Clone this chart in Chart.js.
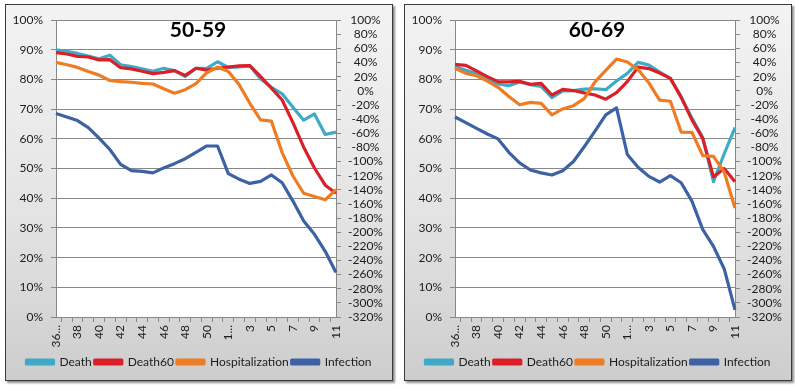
<!DOCTYPE html>
<html>
<head>
<meta charset="utf-8">
<script src="https://cdn.jsdelivr.net/npm/chart.js@4/dist/chart.umd.min.js"></script>
<style>
  html, body { margin: 0; padding: 0; background: #ffffff; }
  body { width: 795px; height: 388px; position: relative; overflow: hidden; }
  .box {
    position: absolute; top: 4px; width: 386px; height: 375px;
    border: 1px solid #3a3a3a;
    background: linear-gradient(to bottom, #f3f3f3 0%, #e4e4e4 55%, #cdcdcd 100%);
    box-shadow: 2px 2px 2px rgba(0,0,0,0.45);
  }
  canvas { display: block; }
</style>
</head>
<body>
<div class="box" style="left:5px"><canvas id="c1" width="386" height="375"></canvas></div>
<div class="box" style="left:404px"><canvas id="c2" width="386" height="375"></canvas></div>
<script>
// ---- data ----
const weeks = ['36...','37','38','39','40','41','42','43','44','45','46','47','48','49','50','51',
               '1...','2','3','4','5','6','7','8','9','10','11'];
const seriesNames = ['Death', 'Death60', 'Hospitalization', 'Infection'];
const panelTitles = ['50-59', '60-69'];
const leftTicks = { min: 0, max: 100, step: 10 };
const rightTicks = { min: -320, max: 100, step: 20 };

// 50-59 (left axis, %)
const death5059   = [90.0, 89.5, 88.8, 87.9, 87.0, 88.2, 85.0, 84.4, 83.6, 82.8, 83.8, 83.0, 81.0, 83.8, 83.8, 86.0, 84.1, 84.3, 84.6, 80.2, 77.4, 75.2, 70.7, 66.3, 68.4, 61.5, 62.3];
const death60_5059 = [89.1, 88.6, 87.8, 87.6, 86.6, 86.7, 84.0, 83.6, 82.8, 82.0, 82.4, 83.0, 81.4, 83.8, 83.2, 83.8, 84.2, 84.6, 84.7, 81.0, 77.1, 73.1, 65.5, 57.2, 50.2, 44.4, 41.7];
const hosp5059    = [85.8, 85.0, 84.1, 82.7, 81.5, 79.7, 79.3, 79.1, 78.7, 78.5, 76.9, 75.4, 76.6, 78.6, 82.3, 84.2, 82.7, 78.3, 72.0, 66.4, 66.0, 55.4, 47.5, 41.7, 40.6, 39.5, 42.9];
// 50-59 (right axis, %)
const infection5059 = [-32, -37, -42, -52, -67, -83, -104, -113, -114, -116, -109, -103, -96, -87, -78, -78, -117, -125, -131, -128, -119, -130, -156, -184, -203, -227, -257];

// 60-69 (left axis, %)
const death6069   = [84.4, 83.1, 82.0, 80.2, 78.5, 77.9, 79.2, 78.3, 77.7, 73.9, 76.2, 76.3, 76.8, 76.9, 76.6, 79.5, 82.1, 85.8, 84.9, 82.5, 80.4, 74.2, 67.0, 60.5, 45.6, 55.0, 63.8];
const death60_6069 = [85.1, 84.8, 82.9, 81.0, 79.3, 79.2, 79.4, 78.4, 78.7, 74.8, 76.7, 76.3, 75.5, 74.8, 73.4, 75.6, 79.3, 84.2, 83.7, 82.2, 80.4, 74.0, 66.4, 60.2, 47.2, 50.0, 45.6];
const hosp6069    = [83.8, 82.1, 81.3, 79.5, 77.4, 74.3, 71.5, 72.3, 72.0, 68.1, 70.1, 71.2, 73.6, 79.2, 83.1, 86.9, 85.9, 83.4, 78.9, 73.1, 72.7, 62.3, 62.2, 54.4, 54.1, 48.8, 36.7];
// 60-69 (right axis, %)
const infection6069 = [-37, -45, -53, -61, -68, -87, -102, -112, -116, -119, -113, -100, -79, -57, -34, -24, -90, -108, -121, -129, -120, -130, -156, -196, -220, -252, -310];

// ---- styles ----
const colors = ['#3eaac6', '#dc1f27', '#ef7c22', '#3c62a5'];
const gridColor = '#888888';
const textColor = '#1c1c1c';
const tickFont = { family: 'Lato', size: 12 };

const plotBg = {
  id: 'plotBg',
  beforeDraw(chart) {
    const { ctx, chartArea: a } = chart;
    ctx.save();
    ctx.fillStyle = '#ffffff';
    ctx.fillRect(a.left, a.top, a.right - a.left, a.bottom - a.top);
    ctx.restore();
  }
};
const innerTitle = {
  id: 'innerTitle',
  afterDatasetsDraw(chart, args, opts) {
    const { ctx, chartArea: a } = chart;
    ctx.save();
    ctx.font = 'bold 21px Lato';
    ctx.fillStyle = '#000';
    ctx.textAlign = 'center';
    ctx.textBaseline = 'alphabetic';
    ctx.fillText(opts.text, (a.left + a.right) / 2 + 2, a.top + 17);
    ctx.restore();
  }
};

function makeChart(id, title, d, d60, h, inf) {
  const vals = [d, d60, h, inf];
  const datasets = seriesNames.map((name, i) => ({
    label: name,
    data: vals[i],
    borderColor: colors[i],
    backgroundColor: colors[i],
    borderWidth: 3.2,
    pointRadius: 0,
    tension: 0,
    borderJoinStyle: 'round',
    yAxisID: i === 3 ? 'y2' : 'y',
    order: 4 - i
  }));
  return new Chart(document.getElementById(id), {
    type: 'line',
    data: { labels: weeks, datasets },
    plugins: [plotBg, innerTitle],
    options: {
      responsive: false,
      animation: false,
      layout: { padding: { top: 11, left: 0, right: 0, bottom: 2 } },
      plugins: {
        innerTitle: { text: title },
        tooltip: { enabled: false },
        legend: {
          position: 'bottom',
          labels: {
            boxWidth: 27, boxHeight: 4, padding: 3,
            font: tickFont, color: textColor,
            sort: (a, b) => a.datasetIndex - b.datasetIndex
          }
        }
      },
      scales: {
        x: {
          grid: { drawOnChartArea: false, offset: true, tickLength: 5, color: gridColor },
          border: { color: gridColor },
          ticks: {
            autoSkip: false, maxRotation: 90, minRotation: 90, padding: 3,
            font: tickFont, color: textColor,
            callback: function (v, i) { return i % 2 === 0 ? this.getLabelForValue(v) : ''; }
          },
          afterFit: s => { s.height = 36; }
        },
        y: {
          position: 'left',
          min: leftTicks.min, max: leftTicks.max,
          ticks: { stepSize: leftTicks.step, autoSkip: false, padding: 8, font: tickFont, color: textColor, callback: v => v + '%' },
          grid: { color: gridColor, tickLength: 5 },
          border: { color: gridColor },
          afterFit: s => { s.width = 50; }
        },
        y2: {
          position: 'right',
          min: rightTicks.min, max: rightTicks.max,
          ticks: { stepSize: rightTicks.step, autoSkip: false, padding: 7, crossAlign: 'center', font: tickFont, color: textColor, callback: v => v + '%' },
          grid: { drawOnChartArea: false, color: gridColor, tickLength: 5 },
          border: { color: gridColor },
          afterFit: s => { s.width = 56; }
        }
      }
    }
  });
}

makeChart('c1', panelTitles[0], death5059, death60_5059, hosp5059, infection5059);
makeChart('c2', panelTitles[1], death6069, death60_6069, hosp6069, infection6069);
</script>
</body>
</html>
